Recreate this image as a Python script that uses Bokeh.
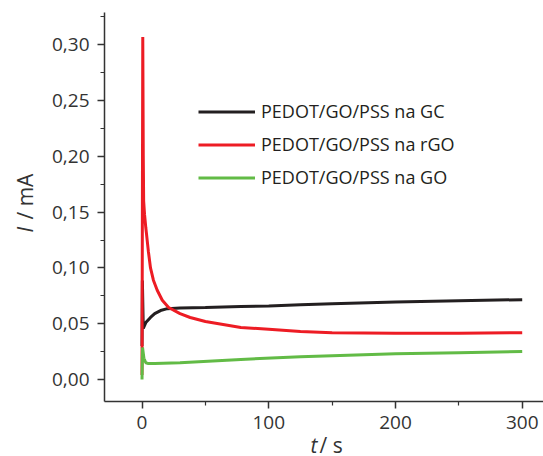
import math
from bokeh.plotting import figure
from bokeh.models import (Label, Legend, LegendItem, FixedTicker, LinearAxis,
                          CustomJSTickFormatter, Range1d)
from bokeh.embed import file_html
from bokeh.resources import INLINE

# ---- data ----
t_gc = [0, 0.3, 1, 3, 6.7, 10, 14.6, 20, 30, 50, 78, 100, 125, 150, 200, 250, 300]
i_gc = [0.030, 0.0887, 0.0457, 0.051, 0.0556, 0.059, 0.0618, 0.0635, 0.064,
        0.0645, 0.0655, 0.066, 0.067, 0.068, 0.0695, 0.0705, 0.0716]

t_rgo = [0, 0.6, 1.0, 1.3, 2, 3, 3.5, 5, 6.7, 9, 12, 16, 21, 30, 38, 50, 78,
         100, 125, 150, 200, 250, 300]
i_rgo = [0.004, 0.307, 0.200, 0.160, 0.148, 0.136, 0.131, 0.115, 0.100, 0.089,
         0.080, 0.071, 0.0645, 0.059, 0.0556, 0.052, 0.0466, 0.045, 0.043,
         0.042, 0.0415, 0.0415, 0.042]

t_go = [0, 0.4, 1.5, 3, 5, 10, 30, 78, 125, 200, 250, 300]
i_go = [0.000, 0.0287, 0.019, 0.015, 0.0143, 0.0143, 0.015, 0.018, 0.0205,
        0.023, 0.024, 0.025]

labels = ["PEDOT/GO/PSS na GC", "PEDOT/GO/PSS na rGO", "PEDOT/GO/PSS na GO"]
x_ticks = [0, 100, 200, 300]
x_minor = [50, 150, 250]
y_ticks = [0.00, 0.05, 0.10, 0.15, 0.20, 0.25, 0.30]
y_minor = [0.025, 0.075, 0.125, 0.175, 0.225, 0.275, 0.325]

X_AXIS = (-29.6, 316.8)     # extent of the drawn x axis
Y_AXIS = (-0.0197, 0.3290)  # extent of the drawn y axis

FONT = "Open Sans"
AXC = "#333333"

p = figure(width=543, height=456, output_backend="svg", toolbar_location=None,
           x_axis_location=None, y_axis_location=None,
           x_range=Range1d(-111.66, 316.8), y_range=Range1d(-0.0690, 0.3397),
           min_border_left=0, min_border_right=0, min_border_top=0,
           min_border_bottom=0)
p.outline_line_color = None
p.xgrid.grid_line_color = None
p.ygrid.grid_line_color = None
p.background_fill_color = "white"
p.border_fill_color = "white"

r_gc = p.line(t_gc, i_gc, line_color="#231f20", line_width=3)
r_rgo = p.line(t_rgo, i_rgo, line_color="#ed1c24", line_width=3)
r_go = p.line(t_go, i_go, line_color="#62bb46", line_width=3)

xaxis = LinearAxis(fixed_location=Y_AXIS[0], bounds=X_AXIS,
                   ticker=FixedTicker(ticks=x_ticks, minor_ticks=x_minor))
yaxis = LinearAxis(fixed_location=X_AXIS[0], bounds=Y_AXIS,
                   ticker=FixedTicker(ticks=y_ticks, minor_ticks=y_minor),
                   formatter=CustomJSTickFormatter(
                       code="return tick.toFixed(2).replace('.', ',');"))
for ax in (xaxis, yaxis):
    ax.axis_line_color = AXC
    ax.axis_line_width = 1.5
    ax.major_tick_line_color = AXC
    ax.minor_tick_line_color = AXC
    ax.major_tick_line_width = 1.5
    ax.minor_tick_line_width = 1.2
    ax.major_tick_in = 0
    ax.major_tick_out = 7
    ax.minor_tick_in = 0
    ax.minor_tick_out = 4
    ax.major_label_text_font = FONT
    ax.major_label_text_font_size = "19px"
    ax.major_label_text_color = AXC
    ax.major_label_standoff = 8
p.add_layout(xaxis, "below")
p.add_layout(yaxis, "left")

legend = Legend(items=[LegendItem(label=labels[0], renderers=[r_gc]),
                       LegendItem(label=labels[1], renderers=[r_rgo]),
                       LegendItem(label=labels[2], renderers=[r_go])],
                location=(198, 267), border_line_color=None,
                background_fill_alpha=0, padding=0, margin=0,
                glyph_width=57, glyph_height=21, label_height=21,
                spacing=9, label_standoff=6,
                label_text_font=FONT, label_text_font_size="18px",
                label_text_color="#231f20")
p.add_layout(legend)

# axis titles: italic symbol + upright unit
p.add_layout(Label(x=132.96, y=-0.0585, text="t", text_font=FONT,
                   text_font_style="italic", text_font_size="21px",
                   text_color=AXC, text_baseline="middle"))
p.add_layout(Label(x=140.06, y=-0.0585, text="/ s", text_font=FONT,
                   text_font_size="21px", text_color=AXC,
                   text_baseline="middle"))
p.add_layout(Label(x=-92.7, y=0.1318, text="I", text_font=FONT,
                   text_font_style="italic", text_font_size="21px",
                   angle=math.pi / 2, text_color=AXC, text_baseline="middle"))
p.add_layout(Label(x=-92.7, y=0.1434, text="/ mA", text_font=FONT,
                   text_font_size="21px", angle=math.pi / 2,
                   text_color=AXC, text_baseline="middle"))

open("out.html", "w").write(file_html(p, INLINE))
